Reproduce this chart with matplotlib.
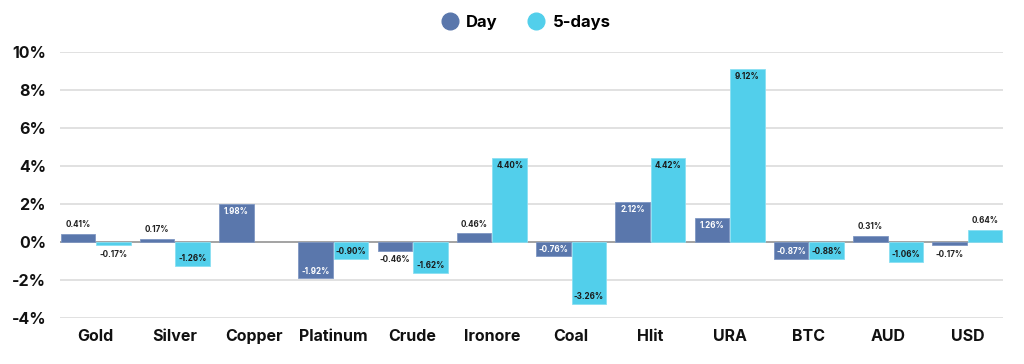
import numpy as np
import matplotlib
matplotlib.use("Agg")
import matplotlib.pyplot as plt
from matplotlib.lines import Line2D

categories = ["Gold", "Silver", "Copper", "Platinum", "Crude", "Ironore",
              "Coal", "Hlit", "URA", "BTC", "AUD", "USD"]
day_values = [0.41, 0.17, 1.98, -1.92, -0.46, 0.46, -0.76, 2.12, 1.26, -0.87, 0.31, -0.17]
five_day_values = [-0.17, -1.26, np.nan, -0.90, -1.62, 4.40, -3.26, 4.42, 9.12, -0.88, -1.06, 0.64]
series_names = ["Day", "5-days"]
y_ticks = [-4, -2, 0, 2, 4, 6, 8, 10]

DAY_COLOR = "#5A77AC"
FIVE_COLOR = "#52CFEB"
FONT = ["Inter", "DejaVu Sans"]

fig = plt.figure(figsize=(10.24, 3.64), dpi=100)
ax = fig.add_axes([60 / 1024, 1 - 318 / 364, (1003 - 60) / 1024, (318 - 52) / 364])

x = np.arange(len(categories))
w = 0.435
off = 0.225

b1 = ax.bar(x - off, day_values, w, color=DAY_COLOR, zorder=3,
            edgecolor="#7F97C2", linewidth=0.6)
b2 = ax.bar(x + off, five_day_values, w, color=FIVE_COLOR, zorder=3,
            edgecolor="#8ADFF2", linewidth=0.6)

def label(bars, vals, inside_color):
    for rect, v in zip(bars, vals):
        if np.isnan(v):
            continue
        cx = rect.get_x() + rect.get_width() / 2
        txt = f"{v:.2f}%"
        if abs(v) >= 0.7:
            if v > 0:
                ax.text(cx, v - 0.15, txt, ha="center", va="top", fontsize=5.8,
                        fontweight="bold", color=inside_color, family=FONT, zorder=4)
            else:
                ax.text(cx, v + 0.15, txt, ha="center", va="bottom", fontsize=5.8,
                        fontweight="bold", color=inside_color, family=FONT, zorder=4)
        else:
            if v >= 0:
                ax.text(cx, v + 0.25, txt, ha="center", va="bottom", fontsize=5.8,
                        fontweight="bold", color="#222222", family=FONT, zorder=4)
            else:
                ax.text(cx, v - 0.25, txt, ha="center", va="top", fontsize=5.8,
                        fontweight="bold", color="#222222", family=FONT, zorder=4)

label(b1, day_values, "white")
label(b2, five_day_values, "#1a1a1a")

ax.set_xlim(-0.45, len(categories) - 0.55)
ax.set_ylim(-4, 10)
ax.set_yticks(y_ticks)
ax.set_yticklabels([f"{t}%" for t in y_ticks], fontsize=11.5, fontweight="bold",
                   family=FONT, color="#111111")
ax.set_xticks(x)
ax.set_xticklabels(categories, fontsize=11.5, fontweight="bold", family=FONT, color="#111111")
ax.tick_params(axis="both", length=0)
ax.tick_params(axis="y", pad=10)
ax.tick_params(axis="x", pad=8)
for s in ax.spines.values():
    s.set_visible(False)
ax.grid(axis="y", color="#DCDCDC", linewidth=1.2, zorder=0)
ax.axhline(0, color="#9A9A9A", linewidth=1.2, zorder=2)

handles = [Line2D([0], [0], marker="o", color="none", markerfacecolor=DAY_COLOR,
                  markeredgecolor=DAY_COLOR, markersize=12),
           Line2D([0], [0], marker="o", color="none", markerfacecolor=FIVE_COLOR,
                  markeredgecolor=FIVE_COLOR, markersize=12)]
fig.legend(handles, series_names, loc="center", bbox_to_anchor=(526 / 1024, 1 - 22 / 364),
           ncol=2, frameon=False, prop={"family": FONT, "weight": "bold", "size": 12},
           handletextpad=0.5, columnspacing=1.8, handlelength=1.0)

fig.savefig("out.png", dpi=100, facecolor="white")
